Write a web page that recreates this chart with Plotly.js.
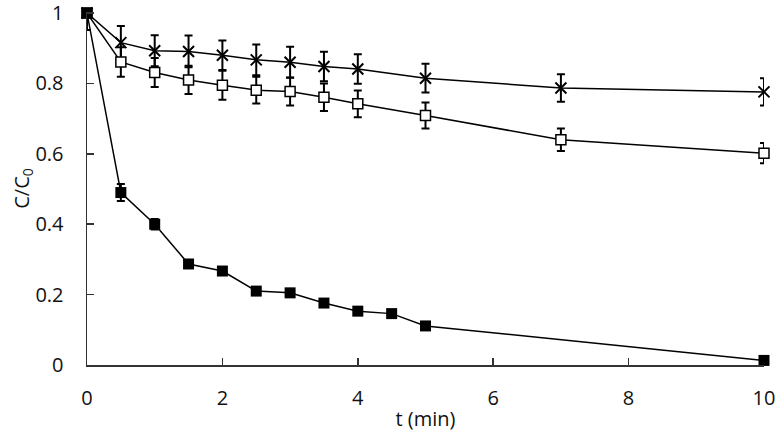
<!DOCTYPE html>
<html>
<head>
<meta charset="utf-8">
<script src="https://cdn.plot.ly/plotly-3.0.1.min.js"></script>
<style>html,body{margin:0;padding:0;background:#fff;}#chart{width:776px;height:438px;}</style>
</head>
<body>
<div id="chart"></div>
<script>
// Time points (min)
const tFilled = [0, 0.5, 1, 1.5, 2, 2.5, 3, 3.5, 4, 4.5, 5, 10];
const tOpen   = [0, 0.5, 1, 1.5, 2, 2.5, 3, 3.5, 4, 5, 7, 10];
const tCross  = [0, 0.5, 1, 1.5, 2, 2.5, 3, 3.5, 4, 5, 7, 10];

// C/C0 values
const filledVals = [1.0, 0.490, 0.400, 0.287, 0.267, 0.210, 0.205, 0.176, 0.153, 0.146, 0.111, 0.013];
const filledErr  = [0, 0.024, 0.015, 0.008, 0.008, 0.008, 0.008, 0.008, 0.008, 0.008, 0.008, 0.005];

const openVals = [1.0, 0.861, 0.831, 0.810, 0.795, 0.781, 0.777, 0.761, 0.742, 0.709, 0.640, 0.602];
const openErr  = [0, 0.042, 0.041, 0.040, 0.041, 0.038, 0.040, 0.039, 0.038, 0.037, 0.032, 0.029];

const crossVals = [1.0, 0.916, 0.893, 0.891, 0.880, 0.867, 0.860, 0.848, 0.841, 0.815, 0.787, 0.776];
const crossErr  = [0.048, 0.047, 0.044, 0.045, 0.042, 0.044, 0.044, 0.042, 0.042, 0.041, 0.039, 0.039];

const xTicks = [0, 2, 4, 6, 8, 10];
const yTicks = [0, 0.2, 0.4, 0.6, 0.8, 1];

function errStyle(arr) {
  return {type: 'data', array: arr, visible: true, color: '#000', thickness: 2, width: 4};
}

const traces = [
  {
    x: tCross, y: crossVals, type: 'scatter', mode: 'lines+markers',
    line: {color: '#000', width: 1.5},
    marker: {symbol: 'x-thin-open', size: 11, color: '#000', line: {color: '#000', width: 2}},
    error_y: errStyle(crossErr), cliponaxis: false
  },
  {
    x: tOpen, y: openVals, type: 'scatter', mode: 'lines+markers',
    line: {color: '#000', width: 1.5},
    marker: {symbol: 'square', size: 10, color: '#fff', line: {color: '#000', width: 1.5}},
    error_y: errStyle(openErr), cliponaxis: false
  },
  {
    x: tFilled, y: filledVals, type: 'scatter', mode: 'lines+markers',
    line: {color: '#000', width: 1.5},
    marker: {symbol: 'square', size: 11, color: '#000', line: {color: '#000', width: 0}},
    error_y: errStyle(filledErr), cliponaxis: false
  }
];

const fontFam = '"Open Sans", "Noto Sans", sans-serif';
const txtColor = '#111';

const layout = {
  width: 776, height: 438,
  margin: {l: 87, r: 12, t: 12, b: 72.5, pad: 0},
  paper_bgcolor: '#fff', plot_bgcolor: '#fff',
  showlegend: false,
  font: {family: fontFam, size: 20, color: txtColor},
  xaxis: {
    range: [0, 10.0001], tickmode: 'array', tickvals: xTicks, ticktext: xTicks.map(String),
    ticks: 'inside', ticklen: 7, tickwidth: 1.5, tickcolor: '#333',
    showline: true, linecolor: '#333', linewidth: 1.5, showgrid: false, zeroline: false,
    ticklabelstandoff: 14, ticklabeloverflow: 'allow',
    tickfont: {family: fontFam, size: 20, color: txtColor},
    title: {text: 't (min)', font: {family: fontFam, size: 20, color: txtColor}, standoff: 2}
  },
  yaxis: {
    range: [0, 1.003], tickmode: 'array', tickvals: yTicks, ticktext: yTicks.map(String),
    ticks: 'inside', ticklen: 7, tickwidth: 1.5, tickcolor: '#333',
    showline: true, linecolor: '#333', linewidth: 1.5, showgrid: false, zeroline: false,
    ticklabelstandoff: 18, ticklabeloverflow: 'allow',
    tickfont: {family: fontFam, size: 20, color: txtColor},
    title: {text: 'C/C<sub>0</sub>', font: {family: fontFam, size: 20, color: txtColor}, standoff: 0}
  }
};

Plotly.newPlot('chart', traces, layout, {staticPlot: true, displayModeBar: false});
</script>
</body>
</html>
